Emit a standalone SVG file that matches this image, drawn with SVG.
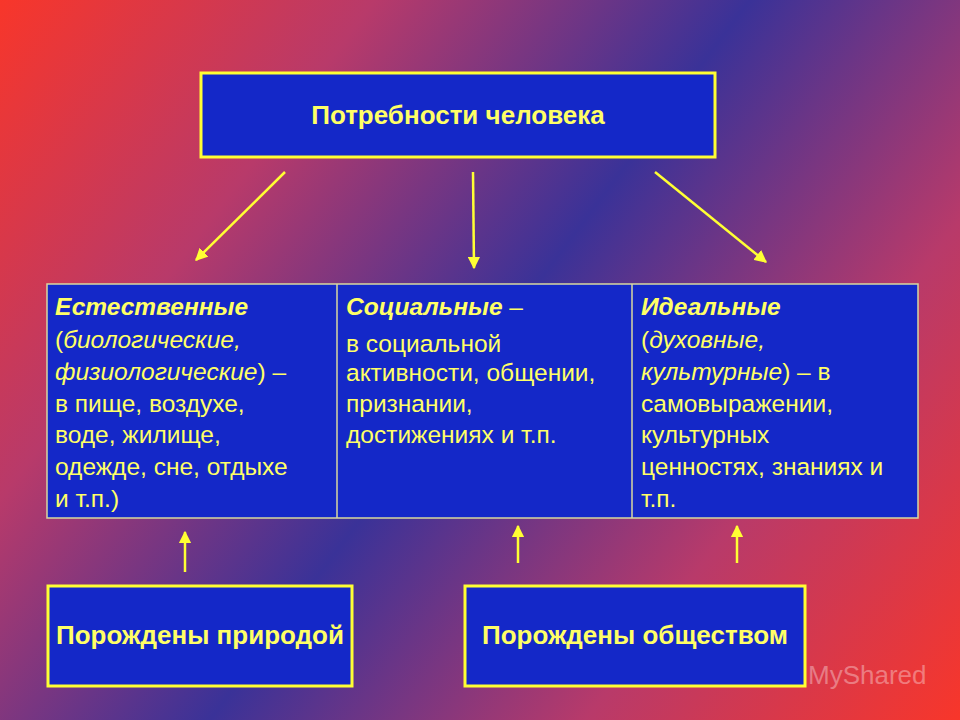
<svg xmlns="http://www.w3.org/2000/svg" width="960" height="720" viewBox="0 0 960 720">
<defs>
<linearGradient id="bg" x1="0" y1="0" x2="960" y2="720" gradientUnits="userSpaceOnUse">
<stop offset="0" stop-color="#f8362a"/>
<stop offset="0.25" stop-color="#b83a6a"/>
<stop offset="0.5" stop-color="#3a3298"/>
<stop offset="0.75" stop-color="#b83a6a"/>
<stop offset="1" stop-color="#f8362a"/>
</linearGradient>
<marker id="ah" viewBox="0 0 10 10" refX="9" refY="5" markerWidth="5" markerHeight="5" orient="auto"><path d="M0,0 L10,5 L0,10 z" fill="#ffff33"/></marker>
<style>
.box{fill:#1428c8;stroke:#ffff33;stroke-width:3}
.t{font-family:"Liberation Sans",Arial,sans-serif;font-size:24.5px;fill:#ffff66}
.b{font-weight:bold;font-style:italic}
.i{font-style:italic}
.h{font-family:"Liberation Sans",Arial,sans-serif;font-size:26px;font-weight:bold;fill:#ffff66;text-anchor:middle}
.c line{stroke:#ffff33;stroke-width:2.5;marker-end:url(#ah)}
</style>
</defs>
<rect width="960" height="720" fill="url(#bg)"/>
<g id="top"><rect class="box" x="201" y="73" width="514" height="84"/><text class="h" x="458" y="124">Потребности человека</text></g>
<g id="table">
<rect x="47" y="284" width="871" height="234" fill="#1428c8" stroke="#d8d8a0" stroke-width="1.5"/>
<line x1="337" y1="284" x2="337" y2="518" stroke="#d8d8a0" stroke-width="1.5"/>
<line x1="632" y1="284" x2="632" y2="518" stroke="#d8d8a0" stroke-width="1.5"/>
</g>
<g id="col1">
<text class="t" x="55" y="315"><tspan class="b">Естественные</tspan></text>
<text class="t" x="55" y="348">(<tspan class="i">биологические,</tspan></text>
<text class="t" x="55" y="380"><tspan class="i">физиологические</tspan>) –</text>
<text class="t" x="55" y="412">в пище, воздухе,</text>
<text class="t" x="55" y="443">воде, жилище,</text>
<text class="t" x="55" y="475">одежде, сне, отдыхе</text>
<text class="t" x="55" y="507">и т.п.)</text>
</g>
<g id="col2">
<text class="t" x="346" y="315"><tspan class="b">Социальные</tspan> –</text>
<text class="t" x="346" y="352">в социальной</text>
<text class="t" x="346" y="381">активности, общении,</text>
<text class="t" x="346" y="412">признании,</text>
<text class="t" x="346" y="443">достижениях и т.п.</text>
</g>
<g id="col3">
<text class="t" x="641" y="315"><tspan class="b">Идеальные</tspan></text>
<text class="t" x="641" y="348">(<tspan class="i">духовные,</tspan></text>
<text class="t" x="641" y="380"><tspan class="i">культурные</tspan>) – в</text>
<text class="t" x="641" y="412">самовыражении,</text>
<text class="t" x="641" y="443">культурных</text>
<text class="t" x="641" y="475">ценностях, знаниях и</text>
<text class="t" x="641" y="507">т.п.</text>
</g>
<g id="nature"><rect class="box" x="48" y="586" width="304" height="100"/><text class="h" x="200" y="644">Порождены природой</text></g>
<g id="society"><rect class="box" x="465" y="586" width="340" height="100"/><text class="h" x="635" y="644">Порождены обществом</text></g>
<g id="connectors" class="c">
<line x1="285" y1="172" x2="196" y2="260"/>
<line x1="473" y1="172" x2="474" y2="268"/>
<line x1="655" y1="172" x2="766" y2="262"/>
<line x1="185" y1="572" x2="185" y2="532"/>
<line x1="518" y1="563" x2="518" y2="526"/>
<line x1="737" y1="563" x2="737" y2="526"/>
</g>
<text x="808" y="684" font-family="Liberation Sans,Arial,sans-serif" font-size="26" fill="#ffffff" fill-opacity="0.35">MyShared</text>
</svg>
